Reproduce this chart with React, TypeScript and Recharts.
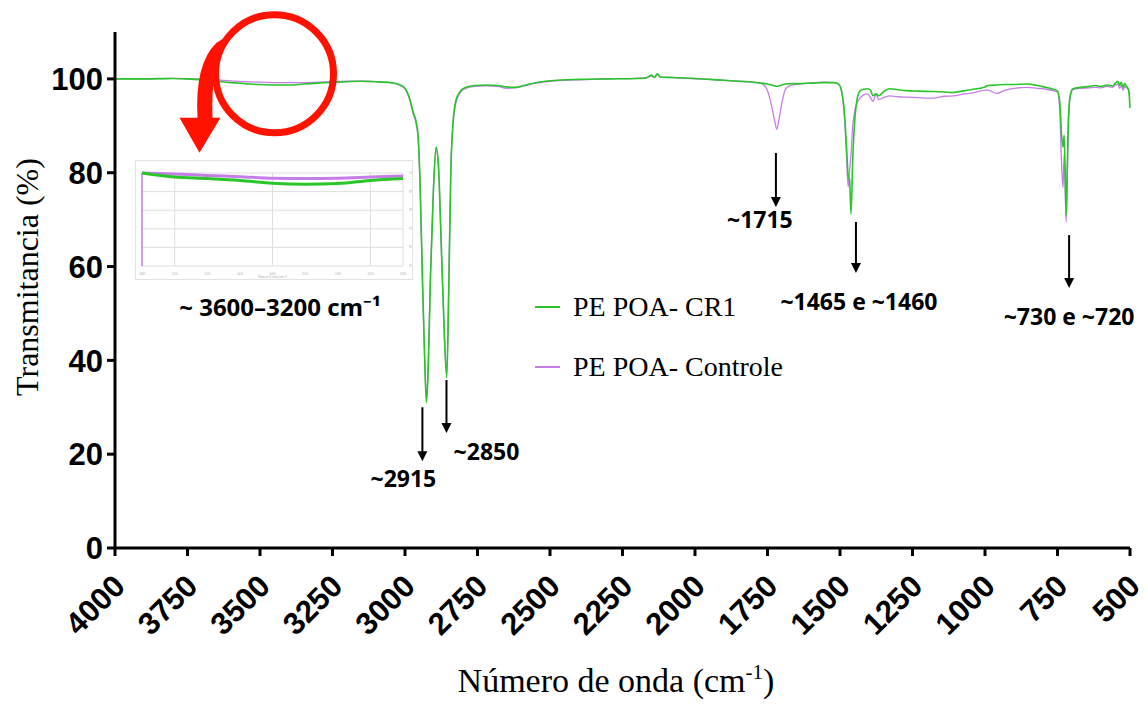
import React from "react";
import {
  CartesianGrid,
  Legend,
  Line,
  LineChart,
  ReferenceDot,
  ReferenceLine,
  XAxis,
  YAxis,
} from "recharts";

const WAVENUMBER = [
  4000, 3900, 3800, 3750, 3700, 3650, 3600, 3550, 3500, 3450, 3400, 3350, 3300,
  3250, 3200, 3150, 3100, 3050, 3020, 3000, 2985, 2972, 2962, 2955, 2948, 2940,
  2932, 2926, 2920, 2912, 2902, 2893, 2885, 2875, 2864, 2856, 2849, 2842, 2834,
  2824, 2810, 2790, 2760, 2720, 2680, 2650, 2620, 2590, 2550, 2500, 2400, 2300,
  2200, 2170, 2150, 2140, 2130, 2120, 2080, 2000, 1950, 1900, 1850, 1800, 1770,
  1750, 1735, 1725, 1718, 1710, 1700, 1688, 1670, 1640, 1600, 1560, 1520, 1505,
  1495, 1485, 1477, 1472, 1467, 1462, 1456, 1448, 1440, 1430, 1418, 1405, 1395,
  1386, 1376, 1366, 1350, 1328, 1300, 1269, 1230, 1179, 1140, 1110, 1070, 1041,
  1000, 990, 960, 930, 900, 855, 820, 790, 765, 750, 742, 736, 731, 727, 723,
  720, 716, 712, 706, 697, 670, 640, 620, 600, 580, 560, 550, 542, 536, 530, 524,
  518, 512, 506, 502, 500,
];

// PE POA- CR1 (%T)
const CR1 = [
  100.0, 100.0, 100.1, 100.0, 99.8, 99.5, 99.2, 99.0, 98.8, 98.7, 98.7, 98.9,
  99.1, 99.3, 99.4, 99.5, 99.4, 99.2, 98.8, 98.0, 96.0, 93.0, 91.0, 88.0, 78.0,
  58.0, 40.0, 31.0, 38.0, 58.0, 76.0, 85.5, 82.0, 65.0, 45.0, 36.3, 55.0, 80.0,
  91.0, 95.5, 97.3, 98.2, 98.6, 98.7, 98.6, 98.3, 98.2, 98.6, 99.2, 99.6, 99.9,
  100.0, 100.1, 100.2, 100.8, 100.3, 101.1, 100.4, 100.3, 100.1, 99.9, 99.7,
  99.5, 99.3, 99.1, 98.9, 98.7, 98.5, 98.4, 98.5, 98.7, 98.9, 99.0, 99.0, 99.1,
  99.2, 99.2, 98.9, 97.5, 93.0, 85.0, 79.5, 78.5, 71.2, 83.0, 92.0, 96.0, 97.5,
  97.8, 97.9, 97.6, 96.4, 96.8, 96.4, 97.3, 97.9, 97.7, 97.5, 97.4, 97.3, 97.2,
  97.1, 97.5, 97.8, 98.3, 98.6, 98.7, 98.8, 98.8, 98.9, 98.6, 98.2, 97.8, 97.4,
  95.0, 88.0, 85.5, 88.0, 78.0, 71.0, 82.0, 92.0, 96.5, 97.9, 98.2, 98.4, 98.6,
  98.4, 98.7, 98.5, 99.1, 99.5, 98.6, 99.3, 98.2, 99.0, 98.4, 97.8, 96.0, 93.8,
];

// PE POA- Controle (%T)
const CONTROLE = [
  100.0, 100.0, 100.1, 100.0, 100.0, 99.8, 99.6, 99.4, 99.3, 99.2, 99.2, 99.2,
  99.3, 99.4, 99.5, 99.5, 99.4, 99.2, 98.7, 97.9, 95.8, 92.6, 90.5, 87.5, 77.0,
  57.0, 40.0, 31.5, 39.0, 59.0, 77.0, 85.0, 81.5, 64.0, 45.0, 37.0, 57.0, 81.0,
  90.5, 95.0, 97.0, 98.0, 98.4, 98.5, 98.4, 98.0, 98.1, 98.5, 99.1, 99.5, 99.8,
  100.0, 100.1, 100.2, 100.6, 100.3, 100.9, 100.4, 100.3, 100.0, 99.9, 99.7,
  99.5, 99.3, 99.0, 97.5, 94.0, 91.0, 89.3, 91.5, 95.0, 97.8, 98.6, 98.9, 99.1,
  99.3, 99.2, 98.9, 97.5, 92.0, 83.0, 77.0, 80.5, 84.0, 90.0, 93.5, 95.0, 96.0,
  96.6, 96.8, 96.0, 95.2, 96.7, 95.6, 96.0, 96.4, 96.2, 96.1, 96.0, 95.9, 96.3,
  96.4, 96.8, 97.0, 97.6, 97.6, 96.9, 97.6, 98.0, 98.2, 98.0, 97.8, 97.5, 97.2,
  93.0, 82.0, 76.8, 84.0, 75.0, 69.5, 80.0, 91.0, 96.2, 97.7, 98.0, 98.1, 98.2,
  98.1, 98.4, 98.2, 98.7, 98.9, 98.0, 98.6, 97.6, 98.4, 98.1, 97.8, 97.2, 96.6,
];

const X_TICKS = [4000, 3750, 3500, 3250, 3000, 2750, 2500, 2250, 2000, 1750, 1500, 1250, 1000, 750, 500];
const Y_TICKS = [0, 20, 40, 60, 80, 100];

// band assignments: wavenumber of arrow, arrow top/bottom (%T), text
const BAND_WAVENUMBER = [2940, 2857, 1721, 1445, 710];
const BAND_TOP = [30.0, 35.8, 84.2, 69.5, 66.7];
const BAND_BOTTOM = [18.5, 24.5, 72.7, 58.6, 55.4];
const BAND_LABEL = ["~2915", "~2850", "~1715", "~1465 e ~1460", "~730 e ~720"];

// inset: zoom of the 3600-3200 cm-1 window
const INSET_W = [3600, 3550, 3500, 3450, 3400, 3350, 3300, 3250, 3200];
const INSET_CR1 = [100.0, 99.78, 99.7, 99.6, 99.45, 99.4, 99.43, 99.6, 99.7];
const INSET_CONTROLE = [100.0, 99.95, 99.87, 99.8, 99.72, 99.7, 99.72, 99.78, 99.84];
const INSET_X_TICKS = [3600, 3550, 3500, 3450, 3400, 3350, 3300, 3250, 3200];
const INSET_X_GRID = [3550, 3400, 3250];
const INSET_Y_TICKS = [95, 96, 97, 98, 99, 100];

const GREEN = "#29c52a";
const PURPLE = "#c57de8";
const SANS = "'Liberation Sans', Arial, sans-serif";
const SERIF = "'Liberation Serif', 'Times New Roman', serif";
const NOTE_FONT = "'Open Sans', 'Noto Sans', sans-serif";

const SERIES = [
  { key: "cr1", name: "PE POA- CR1", color: GREEN },
  { key: "ctrl", name: "PE POA- Controle", color: PURPLE },
];

const data = WAVENUMBER.map((w, i) => ({ w, cr1: CR1[i], ctrl: CONTROLE[i] }));
const insetData = INSET_W.map((w, i) => ({ w, cr1: INSET_CR1[i], ctrl: INSET_CONTROLE[i] }));

// label offset from arrow tip, px
const LABEL_OFFSET: [number, number][] = [
  [-19, 26],
  [40, 27],
  [-16, 21],
  [3, 37],
  [0, 37],
];

function XTick({ x, y, payload }: any) {
  const ax = x + 12;
  const ay = y + 30;
  return (
    <text
      x={ax}
      y={ay}
      transform={`rotate(-45 ${ax} ${ay})`}
      textAnchor="end"
      fontFamily={SANS}
      fontWeight={700}
      fontSize={31}
      fill="#000"
    >
      {payload.value}
    </text>
  );
}

function YTick({ x, y, payload }: any) {
  return (
    <text
      x={x - 2}
      y={y}
      dy="0.36em"
      textAnchor="end"
      fontFamily={SANS}
      fontWeight={700}
      fontSize={31}
      fill="#000"
    >
      {payload.value}
    </text>
  );
}

function bandArrow(label: string, offset: [number, number]) {
  return (p: any) => {
    const { x1, y1, x2, y2 } = p;
    return (
      <g>
        <line x1={x1} y1={y1} x2={x2} y2={y2 - 8} stroke="#000" strokeWidth={2} />
        <path d={`M${x2 - 5},${y2 - 10} L${x2 + 5},${y2 - 10} L${x2},${y2} Z`} fill="#000" />
        <text
          x={x2 + offset[0]}
          y={y2 + offset[1]}
          textAnchor="middle"
          fontFamily={NOTE_FONT}
          fontWeight={700}
          fontSize={23}
          fill="#000"
        >
          {label}
        </text>
      </g>
    );
  };
}

// red circle + curved arrow pointing at the inset
function Callout({ cx, cy }: any) {
  if (cx == null || cy == null) return null;
  const d = [
    `M${cx - 48},${cy - 37}`,
    `Q${cx - 64},${cy - 8} ${cx - 62},${cy + 44}`,
    `L${cx - 54},${cy + 44}`,
    `L${cx - 75},${cy + 79}`,
    `L${cx - 95},${cy + 44}`,
    `L${cx - 77},${cy + 44}`,
    `Q${cx - 80},${cy - 10} ${cx - 58},${cy - 31}`,
    "Z",
  ].join(" ");
  return (
    <g>
      <path d={d} fill="#ff1200" />
      <circle cx={cx} cy={cy} r={59} fill="none" stroke="#ff1200" strokeWidth={7} />
    </g>
  );
}

function SpectrumLegend() {
  return (
    <div style={{ fontFamily: SERIF, fontSize: 28, color: "#000" }}>
      {SERIES.map((s) => (
        <div key={s.key} style={{ display: "flex", alignItems: "center", height: 60 }}>
          <span style={{ display: "inline-block", width: 25, height: 2, background: s.color, marginRight: 13 }} />
          <span>{s.name}</span>
        </div>
      ))}
    </div>
  );
}

function Inset() {
  const tiny = { fontSize: 3, fill: "#aaa" };
  return (
    <div
      style={{
        position: "absolute",
        left: 135,
        top: 160,
        width: 278,
        height: 120,
        background: "#fff",
        border: "1px solid #e2e2e2",
        boxSizing: "border-box",
      }}
    >
      <LineChart width={276} height={118} data={insetData} margin={{ top: 12, right: 0, bottom: 0, left: 6 }}>
        <CartesianGrid stroke="#dedede" vertical={false} />
        <XAxis
          dataKey="w"
          type="number"
          domain={[3200, 3600]}
          reversed
          ticks={INSET_X_TICKS}
          interval={0}
          height={13}
          axisLine={false}
          tickLine={false}
          tickMargin={1}
          tick={tiny}
          label={{ value: "Número de onda (cm-1)", position: "insideBottom", offset: 1, style: tiny }}
        />
        <YAxis
          orientation="right"
          domain={[95, 100]}
          ticks={INSET_Y_TICKS}
          interval={0}
          width={9}
          axisLine={false}
          tickLine={false}
          tickMargin={0}
          tick={tiny}
        />
        {INSET_X_GRID.map((g) => (
          <ReferenceLine key={g} x={g} stroke="#dedede" />
        ))}
        <ReferenceLine x={3200} stroke="#dedede" />
        <ReferenceLine x={3600} stroke={PURPLE} strokeWidth={1.5} />
        <Line dataKey="ctrl" type="monotone" stroke={PURPLE} strokeWidth={3} dot={false} isAnimationActive={false} />
        <Line dataKey="cr1" type="monotone" stroke={GREEN} strokeWidth={3} dot={false} isAnimationActive={false} />
      </LineChart>
    </div>
  );
}

export default function App() {
  return (
    <div style={{ position: "absolute", left: 0, top: 0, width: 1148, height: 704, background: "#fff" }}>
      <LineChart width={1148} height={704} data={data} margin={{ top: 32, right: 18, bottom: 0, left: 0 }}>
        <XAxis
          dataKey="w"
          type="number"
          domain={[500, 4000]}
          reversed
          ticks={X_TICKS}
          interval={0}
          height={156}
          stroke="#000"
          strokeWidth={3}
          tickSize={8}
          tick={<XTick />}
          label={{
            content: () => (
              <text x={616} y={692} textAnchor="middle" fontFamily={SERIF} fontSize={34} fill="#000">
                Número de onda (cm
                <tspan dy={-13} fontSize={21}>-1</tspan>
                <tspan dy={13}>)</tspan>
              </text>
            ),
          }}
        />
        <YAxis
          domain={[0, 110]}
          ticks={Y_TICKS}
          interval={0}
          width={115}
          stroke="#000"
          strokeWidth={3}
          tickSize={8}
          tick={<YTick />}
          label={{
            content: () => (
              <text
                x={38}
                y={277}
                transform="rotate(-90 38 277)"
                textAnchor="middle"
                fontFamily={SERIF}
                fontSize={32}
                fill="#000"
              >
                Transmitancia (%)
              </text>
            ),
          }}
        />
        <ReferenceDot x={3450} y={101.1} ifOverflow="visible" shape={<Callout />} />
        {BAND_WAVENUMBER.map((w, i) => (
          <ReferenceLine
            key={BAND_LABEL[i]}
            segment={[
              { x: w, y: BAND_TOP[i] },
              { x: w, y: BAND_BOTTOM[i] },
            ]}
            ifOverflow="visible"
            shape={bandArrow(BAND_LABEL[i], LABEL_OFFSET[i])}
          />
        ))}
        <Legend
          layout="horizontal"
          align="center"
          verticalAlign="middle"
          content={<SpectrumLegend />}
          wrapperStyle={{ position: "absolute", left: 535, top: 277, width: 330, bottom: "auto" }}
        />
        <Line
          dataKey="ctrl"
          name="PE POA- Controle"
          type="monotone"
          stroke={PURPLE}
          strokeWidth={1.3}
          dot={false}
          isAnimationActive={false}
        />
        <Line
          dataKey="cr1"
          name="PE POA- CR1"
          type="monotone"
          stroke={GREEN}
          strokeWidth={1.6}
          dot={false}
          isAnimationActive={false}
        />
      </LineChart>
      <Inset />
      <div
        style={{
          position: "absolute",
          left: 130,
          top: 290,
          width: 300,
          textAlign: "center",
          fontFamily: NOTE_FONT,
          fontWeight: 700,
          fontSize: 24,
          lineHeight: "normal",
          color: "#000",
        }}
      >
        ~ 3600–3200 cm⁻¹
      </div>
    </div>
  );
}
